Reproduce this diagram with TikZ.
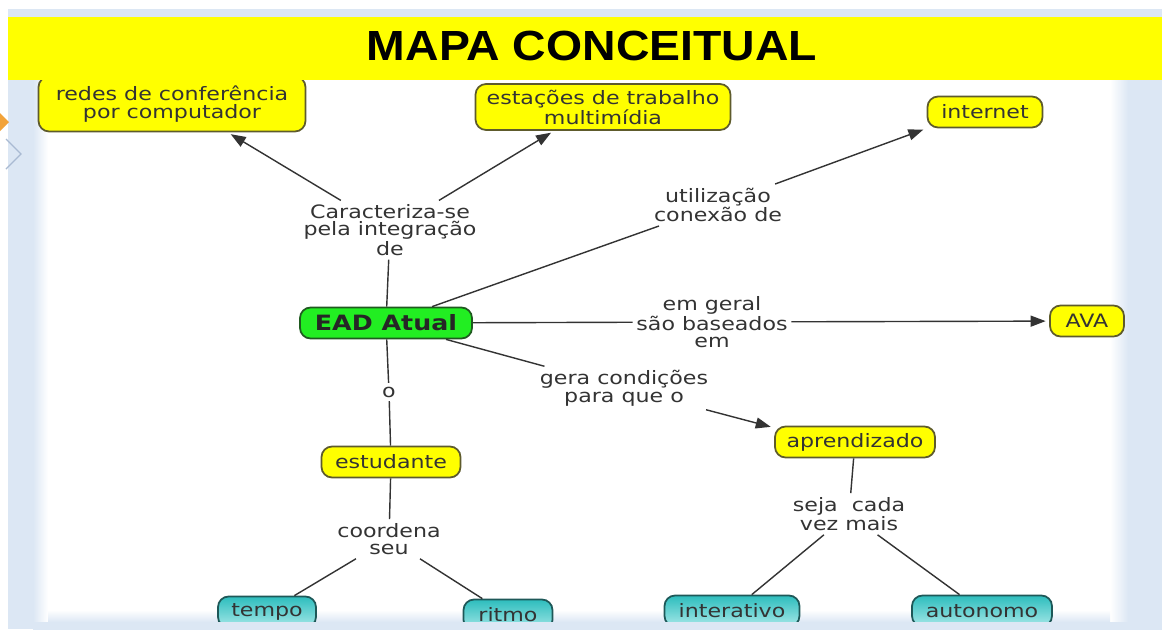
\documentclass[tikz,border=0pt]{standalone}
\usepackage{fontspec}
\setmainfont{DejaVu Sans}[FakeStretch=1.2]
\newfontfamily\titlefont{Liberation Sans}[FakeStretch=1.1]
\usetikzlibrary{arrows.meta, positioning, calc, backgrounds}
\definecolor{conceptyellow}{HTML}{FFFF00}
\definecolor{conceptedge}{HTML}{5E5B2C}
\definecolor{rootgreen}{HTML}{22EE22}
\definecolor{rootedge}{HTML}{1F5A1F}
\definecolor{leafteal}{HTML}{2DBDBD}
\definecolor{leafteallight}{HTML}{A6E8E8}
\definecolor{leafedge}{HTML}{1E5858}
\definecolor{linkgray}{HTML}{333333}
\definecolor{slideblue}{HTML}{DCE7F4}
\definecolor{slideorange}{HTML}{F2A33A}
\definecolor{chevrongray}{HTML}{A9BAD2}

\begin{document}
\begin{tikzpicture}[
    x=0.02cm, y=-0.02cm,
    % ── Node styles ──────────────────────────────────────────────────────
    base/.style={
        draw, rounded corners=6pt, minimum height=0.62cm,
        font=\fontsize{10.5}{10}\selectfont,
        text=linkgray, align=center, inner xsep=6pt, inner ysep=3pt,
        line width=1pt
    },
    conceptnode/.style={
        base, fill=conceptyellow, draw=conceptedge
    },
    rootnode/.style={
        base, fill=rootgreen, draw=rootedge, text=black!85,
        font=\fontsize{12}{14}\selectfont\bfseries
    },
    leafnode/.style={
        base, top color=leafteal, bottom color=leafteallight,
        draw=leafedge
    },
    linklabel/.style={
        font=\fontsize{10.5}{10}\selectfont,
        text=linkgray, align=center, inner sep=2pt, fill=white
    },
    % ── Connector styles ─────────────────────────────────────────────────
    link/.style={line width=0.8pt, color=linkgray},
    arr/.style={
        -{Triangle[length=3mm, width=2.2mm]},
        line width=0.8pt, color=linkgray, shorten >=2pt
    }
]
\useasboundingbox (0,0) rectangle (1162,629);

% ═══════════════════════════════════════════════════════════════════════════
% Slide background
% ═══════════════════════════════════════════════════════════════════════════
\begin{scope}[on background layer]
    \fill[white] (0,0) rectangle (1162,629);
    \fill[slideblue] (8,9) rectangle (1162,18);
    \fill[slideblue] (8,80) rectangle (33,629);
    \shade[left color=slideblue, right color=white] (33,80) rectangle (48,629);
    \shade[left color=white, right color=slideblue] (1110,80) rectangle (1128,629);
    \fill[slideblue] (1128,80) rectangle (1162,629);
    \shade[top color=white, bottom color=slideblue] (48,610) rectangle (1110,622);
    \fill[slideorange] (0,113) -- (9,122) -- (0,131) -- cycle;
    \draw[chevrongray, line width=0.8pt] (6,139) -- (21,154) -- (6,169);
\end{scope}

% ═══════════════════════════════════════════════════════════════════════════
% Concepts
% ═══════════════════════════════════════════════════════════════════════════
\node[conceptnode, minimum width=5.34cm, minimum height=1.1cm] (redes) at (172,104)
    {redes de conferência\\por computador};
\node[conceptnode, minimum width=5.1cm, minimum height=0.92cm] (estacoes) at (603,107)
    {estações de trabalho\\multimídia};
\node[conceptnode, minimum width=2.3cm] (internet) at (985,112) {internet};

\node[rootnode, minimum width=3.44cm] (ead) at (386,323) {EAD Atual};
\node[conceptnode, minimum width=1.48cm] (ava) at (1087,321) {AVA};

\node[conceptnode, minimum width=3.2cm] (aprendizado) at (855,442) {aprendizado};
\node[conceptnode, minimum width=2.78cm] (estudante) at (391,462) {estudante};

\node[leafnode, minimum width=1.96cm] (tempo) at (267,612) {tempo};
\node[leafnode, minimum width=1.78cm] (ritmo) at (508,615) {ritmo};
\node[leafnode, minimum width=2.7cm] (interativo) at (732,611) {interativo};
\node[leafnode, minimum width=2.8cm] (autonomo) at (982,611) {autonomo};

% ═══════════════════════════════════════════════════════════════════════════
% Linking phrases
% ═══════════════════════════════════════════════════════════════════════════
\node[linklabel] (lcaract) at (390,230) {Caracteriza-se\\pela integração\\de};
\node[linklabel] (lutil) at (718,205) {utilização\\conexão de};
\node[linklabel] (lgeral) at (712,322) {em geral\\são baseados\\em};
\node[linklabel] (lgera) at (624,388) {gera condições\\para que o};
\node[linklabel] (lo) at (389,392) {o};
\node[linklabel] (lcoord) at (389,539) {coordena\\seu};
\node[linklabel] (lseja) at (849,514) {seja\ \ cada\\vez mais};

% ═══════════════════════════════════════════════════════════════════════════
% Connectors
% ═══════════════════════════════════════════════════════════════════════════
\draw[link] (ead) -- (lcaract);
\draw[arr] (lcaract) -- (redes.333);
\draw[arr] (lcaract) -- (estacoes.206);

\draw[link] (ead) -- (lutil);
\draw[arr] (lutil) -- (internet.south west);

\draw[link] (ead) -- (lgeral);
\draw[arr] (lgeral) -- (ava);

\draw[link] (ead) -- (lgera);
\draw[arr] (lgera) -- (aprendizado.170);

\draw[link] (ead) -- (lo);
\draw[link] (lo) -- (estudante);

\draw[link] (estudante) -- (lcoord);
\draw[link] (lcoord) -- (tempo);
\draw[link] (lcoord) -- (ritmo);

\draw[link] (aprendizado) -- (lseja);
\draw[link] (lseja) -- (interativo);
\draw[link] (lseja) -- (autonomo);

% ═══════════════════════════════════════════════════════════════════════════
% Title banner and bottom edge
% ═══════════════════════════════════════════════════════════════════════════
\fill[conceptyellow] (8,17) rectangle (1162,80);
\node[font=\titlefont\fontsize{24}{28}\selectfont\bfseries, text=black] (title)
    at (592,46) {MAPA CONCEITUAL};
\fill[slideblue] (33,622) rectangle (1162,645);

\end{tikzpicture}
\end{document}
